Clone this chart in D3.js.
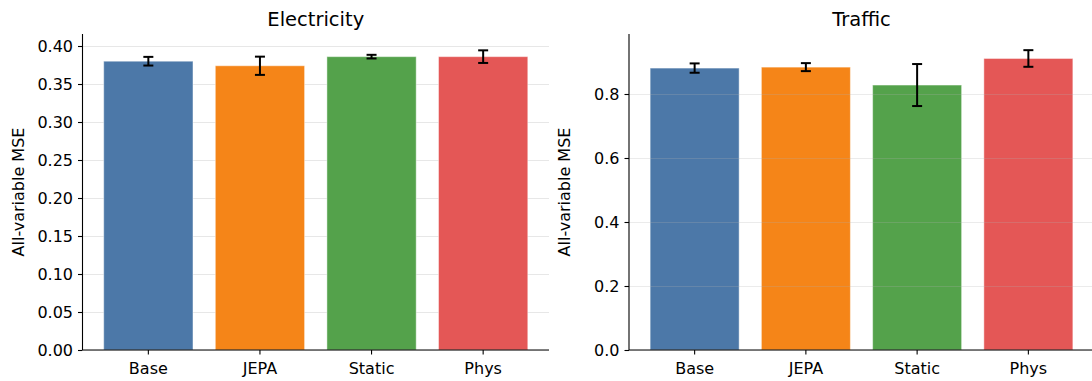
<!DOCTYPE html>
<html>
<head>
<script src="https://d3js.org/d3.v7.min.js"></script>
<style>
  body { margin: 0; background: #fff; }
  svg text { font-family: "DejaVu Sans", sans-serif; fill: #000; }
</style>
</head>
<body>
<svg width="1092" height="381"></svg>
<script>
// data
const methods = ["Base", "JEPA", "Static", "Phys"];
const colors = ["#4c78a8", "#f58518", "#54a24b", "#e45756"];

const elecMean = [0.380, 0.374, 0.386, 0.386];
const elecErr  = [0.0057, 0.012, 0.0024, 0.0083];
const elecTicks = [0, 0.05, 0.10, 0.15, 0.20, 0.25, 0.30, 0.35, 0.40];

const trafMean = [0.881, 0.884, 0.828, 0.911];
const trafErr  = [0.0146, 0.0125, 0.0656, 0.026];
const trafTicks = [0, 0.2, 0.4, 0.6, 0.8];

const svg = d3.select("svg");
const plotTop = 34, plotBottom = 350;

function panel(title, means, errs, ticks, fmt, ymax, x0, x1, gridOver) {
  const g = svg.append("g");

  const x = d3.scaleBand()
    .domain(methods)
    .range([x0, x1])
    .paddingInner(0.2)
    .paddingOuter(0.19);

  const y = d3.scaleLinear()
    .domain([0, ymax])
    .range([plotBottom, plotTop]);

  const drawGrid = () => g.append("g")
    .selectAll("line")
    .data(ticks)
    .join("line")
    .attr("x1", x0).attr("x2", x1)
    .attr("y1", d => Math.round(y(d)) + 0.5)
    .attr("y2", d => Math.round(y(d)) + 0.5)
    .attr("stroke", "#b0b0b0")
    .attr("stroke-opacity", gridOver ? 0.25 : 0.3)
    .attr("stroke-width", 1);

  if (!gridOver) drawGrid();

  // bars
  g.append("g")
    .selectAll("rect")
    .data(means)
    .join("rect")
    .attr("x", (d, i) => x(methods[i]))
    .attr("width", x.bandwidth())
    .attr("y", d => y(d))
    .attr("height", d => plotBottom - y(d))
    .attr("fill", (d, i) => colors[i])
    .attr("stroke", "#fff")
    .attr("stroke-opacity", 0.45)
    .attr("stroke-width", 1);

  if (gridOver) drawGrid();

  // error bars
  const eb = g.append("g")
    .selectAll("g")
    .data(means)
    .join("g")
    .attr("transform", (d, i) => `translate(${x(methods[i]) + x.bandwidth() / 2},0)`);
  eb.append("line")
    .attr("y1", (d, i) => y(d - errs[i]))
    .attr("y2", (d, i) => y(d + errs[i]))
    .attr("stroke", "#000").attr("stroke-width", 2);
  eb.append("line")
    .attr("x1", -5).attr("x2", 5)
    .attr("y1", (d, i) => y(d - errs[i]))
    .attr("y2", (d, i) => y(d - errs[i]))
    .attr("stroke", "#000").attr("stroke-width", 2);
  eb.append("line")
    .attr("x1", -5).attr("x2", 5)
    .attr("y1", (d, i) => y(d + errs[i]))
    .attr("y2", (d, i) => y(d + errs[i]))
    .attr("stroke", "#000").attr("stroke-width", 2);

  // axes
  const yAxis = g.append("g")
    .attr("transform", `translate(${x0},0)`)
    .call(d3.axisLeft(y).tickValues(ticks).tickFormat(fmt).tickSize(4.5).tickPadding(5));
  const xAxis = g.append("g")
    .attr("transform", `translate(0,${plotBottom})`)
    .call(d3.axisBottom(x).tickSize(4.5).tickPadding(8));
  [yAxis, xAxis].forEach(a => {
    a.select(".domain").attr("stroke", "#000").attr("stroke-width", 1.1);
    a.selectAll(".tick line").attr("stroke", "#000").attr("stroke-width", 1.1);
    a.selectAll("text").style("font-size", "16px").attr("fill", "#000");
  });
  xAxis.select(".domain").attr("d", `M${x0},0H${x1}`);
  yAxis.select(".domain").attr("d", `M0,${plotTop}V${plotBottom}`);

  g.append("text")
    .attr("x", (x0 + x1) / 2)
    .attr("y", 26)
    .attr("text-anchor", "middle")
    .style("font-size", "19.5px")
    .text(title);

  g.append("text")
    .attr("transform", `translate(${x0 - 59},${(plotTop + plotBottom) / 2}) rotate(-90)`)
    .attr("text-anchor", "middle")
    .style("font-size", "16px")
    .text("All-variable MSE");
}

panel("Electricity", elecMean, elecErr, elecTicks, d3.format(".2f"), 0.4158, 82.5, 549, false);
panel("Traffic", trafMean, trafErr, trafTicks, d3.format(".1f"), 0.9875, 629, 1094, true);
</script>
</body>
</html>
